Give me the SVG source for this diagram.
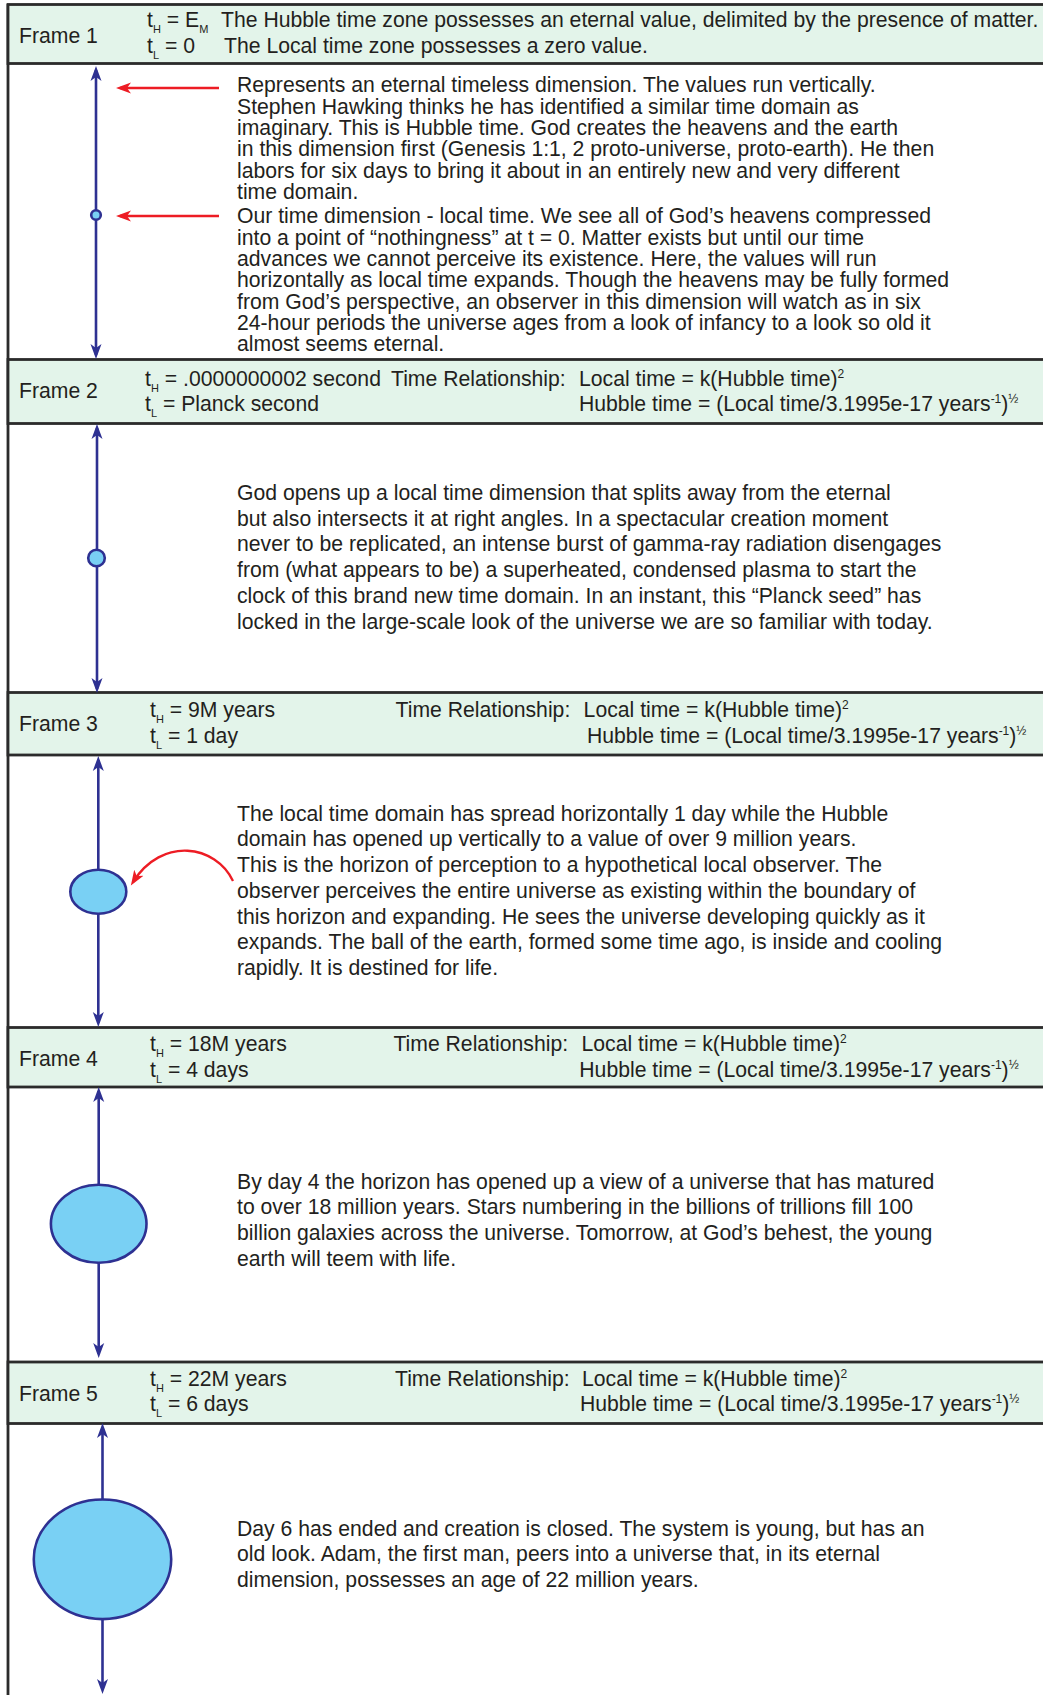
<svg xmlns="http://www.w3.org/2000/svg" width="1043" height="1695" viewBox="0 0 1043 1695">
<style>
text{font-family:"Liberation Sans",Arial,sans-serif;font-size:21.2px;fill:#231f20}
.band{fill:#e3f4ea;stroke:#2b2b2b;stroke-width:2.8}
.sub{font-size:11px}
.sup{font-size:12px}
.axis{stroke:#2e3192;stroke-width:2.6;fill:none}
.red{stroke:#ed1c24;stroke-width:2.3;fill:none}
.ball{fill:#79d0f4;stroke:#2e3192;stroke-width:2.6}
</style>
<defs>
<marker id="navyHead" markerUnits="userSpaceOnUse" markerWidth="16" markerHeight="12" refX="11" refY="6" orient="auto-start-reverse">
<path d="M15,6 L0,0.5 L4,6 L0,11.5 Z" fill="#2e3192"/>
</marker>
<marker id="redHead" markerUnits="userSpaceOnUse" markerWidth="16" markerHeight="12" refX="11" refY="6" orient="auto">
<path d="M15,6 L0,0.5 L4,6 L0,11.5 Z" fill="#ed1c24"/>
</marker>
</defs>
<rect x="0" y="0" width="1043" height="1695" fill="#ffffff"/>
<line x1="8" y1="4" x2="8" y2="1695" stroke="#2b2b2b" stroke-width="2.8"/>

<g id="frame1-header">
<rect class="band" x="8" y="4.5" width="1040" height="59"/>
<text x="19" y="42.7">Frame 1</text>
<text x="147" y="27">t<tspan class="sub" dy="6">H</tspan><tspan dy="-6"> = E</tspan><tspan class="sub" dy="6">M</tspan></text>
<text x="221" y="27">The Hubble time zone possesses an eternal value, delimited by the presence of matter.</text>
<text x="147" y="53">t<tspan class="sub" dy="6">L</tspan><tspan dy="-6"> = 0</tspan></text>
<text x="224" y="53">The Local time zone possesses a zero value.</text>
</g>

<g id="frame1-body">
<circle class="ball" cx="96" cy="215" r="4.8" stroke-width="2"/>
<text x="237">
<tspan x="237" y="92.3">Represents an eternal timeless dimension. The values run vertically.</tspan>
<tspan x="237" y="113.6">Stephen Hawking thinks he has identified a similar time domain as</tspan>
<tspan x="237" y="134.9">imaginary. This is Hubble time. God creates the heavens and the earth</tspan>
<tspan x="237" y="156.2">in this dimension first (Genesis 1:1, 2 proto-universe, proto-earth). He then</tspan>
<tspan x="237" y="177.5">labors for six days to bring it about in an entirely new and very different</tspan>
<tspan x="237" y="198.8">time domain.</tspan>
</text>
<text x="237">
<tspan x="237" y="223.3">Our time dimension - local time. We see all of God’s heavens compressed</tspan>
<tspan x="237" y="244.6">into a point of “nothingness” at t = 0. Matter exists but until our time</tspan>
<tspan x="237" y="265.9">advances we cannot perceive its existence. Here, the values will run</tspan>
<tspan x="237" y="287.2">horizontally as local time expands. Though the heavens may be fully formed</tspan>
<tspan x="237" y="308.5">from God’s perspective, an observer in this dimension will watch as in six</tspan>
<tspan x="237" y="329.8">24-hour periods the universe ages from a look of infancy to a look so old it</tspan>
<tspan x="237" y="351.1">almost seems eternal.</tspan>
</text>
</g>

<g id="frame2-header">
<rect class="band" x="8" y="359.5" width="1040" height="64"/>
<text x="19" y="398.3">Frame 2</text>
<text x="145" y="385.5">t<tspan class="sub" dy="6">H</tspan><tspan dy="-6"> = .0000000002 second</tspan></text>
<text x="391" y="385.5">Time Relationship:</text>
<text x="579" y="385.5">Local time = k(Hubble time)<tspan class="sup" dy="-8">2</tspan></text>
<text x="145" y="411">t<tspan class="sub" dy="6">L</tspan><tspan dy="-6"> = Planck second</tspan></text>
<text x="579" y="411">Hubble time = (Local time/3.1995e-17 years<tspan class="sup" dy="-8">-1</tspan><tspan dy="8">)</tspan><tspan class="sup" dy="-8">½</tspan></text>
</g>

<g id="frame2-body">
<circle class="ball" cx="96.5" cy="558" r="8.3" stroke-width="2.2"/>
<text x="237">
<tspan x="237" y="500">God opens up a local time dimension that splits away from the eternal</tspan>
<tspan x="237" y="525.7">but also intersects it at right angles. In a spectacular creation moment</tspan>
<tspan x="237" y="551.4">never to be replicated, an intense burst of gamma-ray radiation disengages</tspan>
<tspan x="237" y="577.1">from (what appears to be) a superheated, condensed plasma to start the</tspan>
<tspan x="237" y="602.8">clock of this brand new time domain. In an instant, this “Planck seed” has</tspan>
<tspan x="237" y="628.5">locked in the large-scale look of the universe we are so familiar with today.</tspan>
</text>
</g>

<g id="frame3-header">
<rect class="band" x="8" y="692.5" width="1040" height="62.5"/>
<text x="19" y="731.3">Frame 3</text>
<text x="150" y="717">t<tspan class="sub" dy="6">H</tspan><tspan dy="-6"> = 9M years</tspan></text>
<text x="395.6" y="717">Time Relationship:</text>
<text x="583.6" y="717">Local time = k(Hubble time)<tspan class="sup" dy="-8">2</tspan></text>
<text x="150" y="742.5">t<tspan class="sub" dy="6">L</tspan><tspan dy="-6"> = 1 day</tspan></text>
<text x="587" y="742.5">Hubble time = (Local time/3.1995e-17 years<tspan class="sup" dy="-8">-1</tspan><tspan dy="8">)</tspan><tspan class="sup" dy="-8">½</tspan></text>
</g>

<g id="frame3-body">
<ellipse class="ball" cx="98.3" cy="891.7" rx="28" ry="22"/>
<text x="237">
<tspan x="237" y="820.7">The local time domain has spread horizontally 1 day while the Hubble</tspan>
<tspan x="237" y="846.4">domain has opened up vertically to a value of over 9 million years.</tspan>
<tspan x="237" y="872.1">This is the horizon of perception to a hypothetical local observer. The</tspan>
<tspan x="237" y="897.8">observer perceives the entire universe as existing within the boundary of</tspan>
<tspan x="237" y="923.5">this horizon and expanding. He sees the universe developing quickly as it</tspan>
<tspan x="237" y="949.2">expands. The ball of the earth, formed some time ago, is inside and cooling</tspan>
<tspan x="237" y="974.9">rapidly. It is destined for life.</tspan>
</text>
</g>

<g id="frame4-header">
<rect class="band" x="8" y="1027.5" width="1040" height="59.5"/>
<text x="19" y="1066.3">Frame 4</text>
<text x="150" y="1051">t<tspan class="sub" dy="6">H</tspan><tspan dy="-6"> = 18M years</tspan></text>
<text x="393.4" y="1051">Time Relationship:</text>
<text x="581.5" y="1051">Local time = k(Hubble time)<tspan class="sup" dy="-8">2</tspan></text>
<text x="150" y="1076.5">t<tspan class="sub" dy="6">L</tspan><tspan dy="-6"> = 4 days</tspan></text>
<text x="579.3" y="1076.5">Hubble time = (Local time/3.1995e-17 years<tspan class="sup" dy="-8">-1</tspan><tspan dy="8">)</tspan><tspan class="sup" dy="-8">½</tspan></text>
</g>

<g id="frame4-body">
<ellipse class="ball" cx="98.7" cy="1223.8" rx="47.8" ry="39"/>
<text x="237">
<tspan x="237" y="1188.5">By day 4 the horizon has opened up a view of a universe that has matured</tspan>
<tspan x="237" y="1214.2">to over 18 million years. Stars numbering in the billions of trillions fill 100</tspan>
<tspan x="237" y="1239.9">billion galaxies across the universe. Tomorrow, at God’s behest, the young</tspan>
<tspan x="237" y="1265.6">earth will teem with life.</tspan>
</text>
</g>

<g id="frame5-header">
<rect class="band" x="8" y="1362" width="1040" height="61.5"/>
<text x="19" y="1400.8">Frame 5</text>
<text x="150" y="1385.8">t<tspan class="sub" dy="6">H</tspan><tspan dy="-6"> = 22M years</tspan></text>
<text x="395" y="1385.8">Time Relationship:</text>
<text x="582" y="1385.8">Local time = k(Hubble time)<tspan class="sup" dy="-8">2</tspan></text>
<text x="150" y="1411">t<tspan class="sub" dy="6">L</tspan><tspan dy="-6"> = 6 days</tspan></text>
<text x="580" y="1411">Hubble time = (Local time/3.1995e-17 years<tspan class="sup" dy="-8">-1</tspan><tspan dy="8">)</tspan><tspan class="sup" dy="-8">½</tspan></text>
</g>

<g id="frame5-body">
<ellipse class="ball" cx="102.5" cy="1559.3" rx="68.7" ry="59.8"/>
<text x="237">
<tspan x="237" y="1535.5">Day 6 has ended and creation is closed. The system is young, but has an</tspan>
<tspan x="237" y="1561.1">old look. Adam, the first man, peers into a universe that, in its eternal</tspan>
<tspan x="237" y="1586.7">dimension, possesses an age of 22 million years.</tspan>
</text>
</g>

<g id="connectors">
<line class="axis" x1="96" y1="70" x2="96" y2="210" marker-start="url(#navyHead)"/>
<line class="axis" x1="96" y1="220" x2="96" y2="355" marker-end="url(#navyHead)"/>
<line class="red" x1="219" y1="88" x2="120" y2="88" marker-end="url(#redHead)"/>
<line class="red" x1="219" y1="216" x2="120" y2="216" marker-end="url(#redHead)"/>

<line class="axis" x1="97" y1="428" x2="97" y2="549.5" marker-start="url(#navyHead)"/>
<line class="axis" x1="97" y1="566.5" x2="97" y2="689" marker-end="url(#navyHead)"/>

<line class="axis" x1="98.3" y1="760" x2="98.3" y2="869.5" marker-start="url(#navyHead)"/>
<line class="axis" x1="98.3" y1="914" x2="98.3" y2="1023" marker-end="url(#navyHead)"/>
<path class="red" d="M233,881 C216,845 162,836 133,882" marker-end="url(#redHead)"/>

<line class="axis" x1="98.7" y1="1091" x2="98.7" y2="1184.5" marker-start="url(#navyHead)"/>
<line class="axis" x1="98.7" y1="1263" x2="98.7" y2="1354" marker-end="url(#navyHead)"/>

<line class="axis" x1="102.5" y1="1427" x2="102.5" y2="1499.5" marker-start="url(#navyHead)"/>
<line class="axis" x1="102.5" y1="1619" x2="102.5" y2="1690" marker-end="url(#navyHead)"/>
</g>
</svg>
